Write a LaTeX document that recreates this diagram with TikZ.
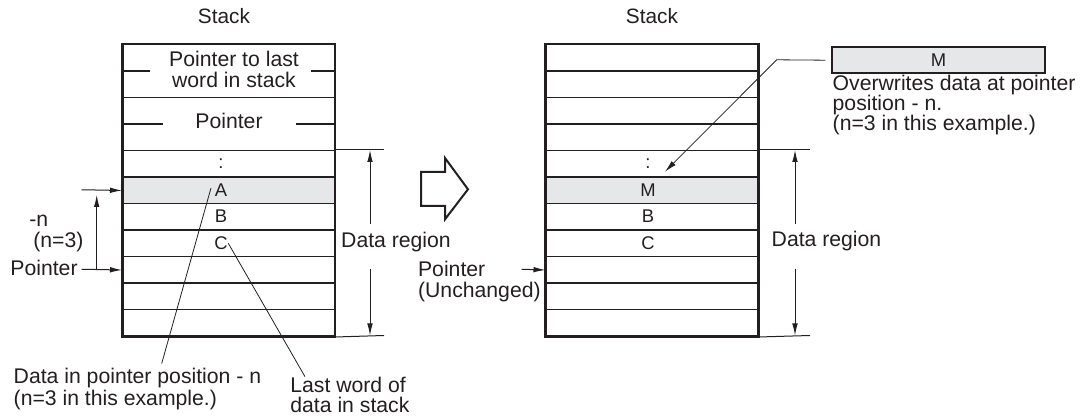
\documentclass[tikz,border=0pt]{standalone}
\usepackage{fontspec}
\setmainfont{Liberation Sans}
\usetikzlibrary{arrows.meta}
\definecolor{ink}{HTML}{231F20}
\definecolor{cellgray}{HTML}{E6E7E8}
\begin{document}
\begin{tikzpicture}[x=0.5pt,y=-0.5pt,
  cell/.style={draw=ink, line width=0.75pt, minimum width=105.75pt, minimum height=13.25pt, inner sep=0pt, anchor=north west},
  dcell/.style={cell, minimum height=26.5pt},
  gcell/.style={cell, fill=cellgray},
  outer/.style={draw=ink, line width=1.1pt},
  txt/.style={font=\fontsize{10.6}{10.4}\selectfont, inner sep=0pt, text=ink},
  ttl/.style={font=\fontsize{10.4}{12}\selectfont, inner sep=0pt, text=ink},
  lett/.style={font=\fontsize{9.2}{10}\selectfont, inner sep=0pt, text=ink},
  dim/.style={draw=ink, line width=0.5pt},
  lead/.style={draw=ink, line width=0.4pt},
  arr/.style={-{Latex[length=6pt,width=2.8pt]}},
]
\useasboundingbox (0,0) rectangle (1088,416);

% ---------- left stack ----------
\node[ttl] (lttl) at (224,16.5) {Stack};
\node[dcell] (Lp1) at (122,44) {};
\node[dcell] (Lp2) at (122,97) {};
\node[cell]  (L3) at (122,150) {};
\node[gcell] (L4) at (122,176.5) {};
\node[cell]  (L5) at (122,203) {};
\node[cell]  (L6) at (122,229.5) {};
\node[cell]  (L7) at (122,256) {};
\node[cell]  (L8) at (122,282.5) {};
\node[cell]  (L9) at (122,309) {};
\draw[outer] (Lp1.north west) rectangle (L9.south east);
\draw[line width=0.75pt, ink] (Lp1.west) -- ++(28,0);
\draw[line width=0.75pt, ink] (Lp1.east) -- ++(-24.5,0);
\draw[line width=0.75pt, ink] (Lp2.west) -- ++(41,0);
\draw[line width=0.75pt, ink] (Lp2.east) -- ++(-39.5,0);
\node[txt, align=center] (tp1) at (234,69.7) {Pointer to last\\word in stack};
\node[txt] (tp2) at (229,120.7) {Pointer};
\node[lett] (l3) at (221,163.25) {:};
\node[lett] (l4) at (221,189.75) {A};
\node[lett] (l5) at (221,216.25) {B};
\node[lett] (l6) at (221,242.75) {C};

% data region (left)
\coordinate (eL1) at (384,150);
\coordinate (eL2) at (384,335.5);
\draw[dim] (L3.north east) -- (eL1);
\draw[dim] (L9.south east) -- (eL2);
\node[txt] (dl) at (396,241.7) {Data region};
\coordinate (dlt) at (370,150);
\coordinate (dlb) at (370,335.5);
\coordinate (dlu) at (370,224);
\coordinate (dld) at (370,269);
\draw[dim,arr] (dlu) -- (dlt);
\draw[dim,arr] (dld) -- (dlb);

% left annotations
\coordinate (pa1) at (81.7,189.75);
\coordinate (pa2) at (81.7,269.25);
\coordinate (va1) at (96.7,269.25);
\coordinate (va2) at (96.7,195);
\draw[dim,arr] (pa1) -- (L4.west);
\draw[dim,arr] (pa2) -- (L7.west);
\draw[dim,arr] (va1) -- (va2);
\node[txt, anchor=west] (tn) at (29,220.5) {-n};
\node[txt, anchor=west] (tn3) at (33,241.7) {(n=3)};
\node[txt, anchor=west] (tptr) at (10,268.3) {Pointer};

% bottom leaders
\node[txt, anchor=west, align=left, font=\fontsize{10.6}{10.85}\selectfont] (dp) at (13.3,389) {Data in pointer position - n\\(n=3 in this example.)};
\node[txt, anchor=west, align=left, font=\fontsize{10.6}{10}\selectfont] (lw) at (290,395) {Last word of\\data in stack};
\coordinate (la1) at (211,188);
\coordinate (la2) at (161.7,363.5);
\draw[lead] (la1) -- (la2);
\coordinate (lc1) at (228.3,243.3);
\coordinate (lc2) at (305,376.7);
\draw[lead] (lc1) -- (lc2);

% hollow arrow
\draw[ink, line width=1pt, line join=miter] (421,172) -- (445,172) -- (445,158) -- (468,189.3) -- (445,219.3) -- (445,206) -- (421,206) -- cycle;

% ---------- right stack ----------
\node[ttl] (rttl) at (652,16.5) {Stack};
\foreach \i in {1,...,11} {
  \pgfmathsetmacro{\yy}{44+26.5*(\i-1)}
  \node[cell] (R\i) at (545.5,\yy) {};
}
\node[gcell] (R6b) at (545.5,176.5) {};
\draw[outer] (R1.north west) rectangle (R11.south east);
\node[lett] (r5) at (648,163.25) {:};
\node[lett] (r6) at (648,189.75) {M};
\node[lett] (r7) at (648,216.25) {B};
\node[lett] (r8) at (648,242.75) {C};

% data region (right)
\coordinate (eR1) at (810,150);
\coordinate (eR2) at (810,335.5);
\draw[dim] (R5.north east) -- (eR1);
\draw[dim] (R11.south east) -- (eR2);
\node[txt] (dr) at (826.5,241.5) {Data region};
\coordinate (drt) at (795,150);
\coordinate (drb) at (795,335.5);
\coordinate (dru) at (795,224);
\coordinate (drd) at (795,269);
\draw[dim,arr] (dru) -- (drt);
\draw[dim,arr] (drd) -- (drb);

% pointer unchanged
\node[txt, anchor=west, align=left, font=\fontsize{10.6}{10.5}\selectfont] (pu) at (417.7,282) {Pointer\\(Unchanged)};
\coordinate (pr) at (521.7,269.25);
\draw[dim,arr] (pr) -- (R9.west);

% M box and leader
\node[draw=ink, fill=cellgray, line width=1pt, minimum width=106.3pt, minimum height=13pt, inner sep=0pt, font=\fontsize{9.2}{10}\selectfont, text=ink] (mb) at (938.6,60.2) {M};
\node[txt, anchor=west, align=left, font=\fontsize{10.6}{10}\selectfont] (ow) at (832.3,105) {Overwrites data at pointer\\position - n.\\(n=3 in this example.)};
\coordinate (mk) at (776.7,59.8);
\coordinate (mt) at (665,171.7);
\draw[lead,arr] ([xshift=-3pt]mb.west) -- (mk) -- (mt);
\end{tikzpicture}
\end{document}
